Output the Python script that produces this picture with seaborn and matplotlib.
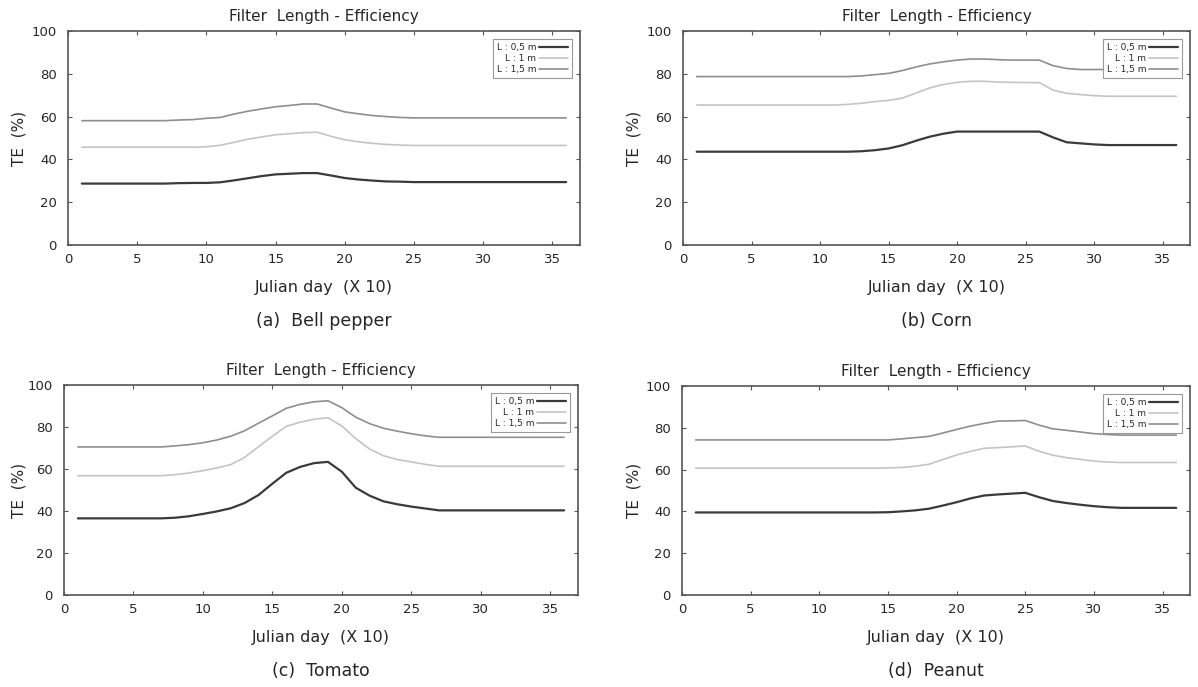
import numpy as np
import pandas as pd
import matplotlib
matplotlib.use("Agg")
import matplotlib.pyplot as plt
import seaborn as sns

# julian day (x10), 1..36
days = list(range(1, 37))
series_names = ["L : 0,5 m", "L : 1 m", "L : 1,5 m"]

# (a) Bell pepper
pepper_05 = [28.7] * 7 + [28.9, 29.0, 29.0, 29.3, 30.2, 31.2, 32.2, 33.0, 33.3, 33.6, 33.6,
                          32.5, 31.3, 30.6, 30.1, 29.7, 29.6] + [29.4] * 12
pepper_10 = [45.7] * 9 + [45.9, 46.6, 48.0, 49.4, 50.5, 51.5, 52.0, 52.5, 52.7,
                          50.8, 49.2, 48.2, 47.5, 47.0, 46.7] + [46.5] * 12
pepper_15 = [58.1] * 7 + [58.4, 58.6, 59.2, 59.6, 61.2, 62.5, 63.6, 64.6, 65.2, 65.9, 65.9,
                          64.0, 62.2, 61.3, 60.5, 60.0, 59.6] + [59.4] * 12

# (b) Corn
corn_05 = [43.6] * 12 + [43.8, 44.3, 45.1, 46.6, 48.7, 50.6, 52.0] + [53.0] * 7 + \
          [50.3, 48.0, 47.5, 47.0] + [46.7] * 6
corn_10 = [65.4] * 11 + [65.7, 66.2, 67.0, 67.6, 68.6, 71.0, 73.4, 75.0, 76.0, 76.5, 76.5,
                         76.1, 76.0, 75.9, 75.9, 72.4, 70.9, 70.3, 69.8] + [69.5] * 6
corn_15 = [78.7] * 12 + [79.0, 79.6, 80.2, 81.5, 83.2, 84.6, 85.6, 86.4, 86.9, 86.9,
                         86.6, 86.4, 86.4, 86.4, 83.8, 82.5] + [82.0] * 8

# (c) Tomato
tomato_05 = [36.5] * 7 + [36.8, 37.5, 38.6, 39.8, 41.3, 43.8, 47.6, 53.0, 58.2, 61.0, 62.8, 63.4,
                          58.7, 51.1, 47.3, 44.6, 43.2, 42.1, 41.2] + [40.3] * 10
tomato_10 = [56.8] * 7 + [57.3, 58.1, 59.2, 60.5, 62.1, 65.5, 70.6, 75.6, 80.3, 82.3, 83.7, 84.4,
                          80.5, 74.5, 69.5, 66.3, 64.5, 63.4, 62.2] + [61.3] * 10
tomato_15 = [70.5] * 7 + [71.0, 71.6, 72.5, 73.8, 75.6, 78.2, 81.8, 85.3, 88.9, 90.8, 92.0, 92.5,
                          89.2, 84.7, 81.6, 79.4, 78.0, 76.8, 75.8] + [75.1] * 10

# (d) Peanut
peanut_05 = [39.5] * 14 + [39.6, 40.0, 40.5, 41.3, 42.8, 44.4, 46.2, 47.6, 48.1, 48.5, 48.9,
                           46.8, 45.0, 44.0, 43.2, 42.5, 42.0] + [41.7] * 5
peanut_10 = [60.7] * 14 + [60.8, 61.0, 61.6, 62.6, 64.8, 67.0, 68.7, 70.2, 70.5, 70.9, 71.3,
                           68.8, 66.9, 65.7, 64.9, 64.1, 63.6] + [63.4] * 5
peanut_15 = [74.2] * 15 + [74.7, 75.3, 75.9, 77.5, 79.2, 80.8, 82.1, 83.2, 83.3, 83.5,
                           81.3, 79.5, 78.8, 78.0, 77.2, 76.8] + [76.5] * 5

panels = [
    ("(a)  Bell pepper", [pepper_05, pepper_10, pepper_15]),
    ("(b) Corn", [corn_05, corn_10, corn_15]),
    ("(c)  Tomato", [tomato_05, tomato_10, tomato_15]),
    ("(d)  Peanut", [peanut_05, peanut_10, peanut_15]),
]

sns.set_style("ticks")
plt.rcParams['font.family'] = ['DejaVu Sans']

palette = {"L : 0,5 m": "#3a3a3a", "L : 1 m": "#c4c4c4", "L : 1,5 m": "#8e8e8e"}
widths = {"L : 0,5 m": 1.6, "L : 1 m": 1.2, "L : 1,5 m": 1.2}

W, H = 1198, 687
fig = plt.figure(figsize=(W / 100, H / 100), dpi=100)

# left, right, top, bottom in pixels, ylabel x
boxes = [(68, 580, 31, 245, 19), (683, 1190, 31, 245, 634),
         (64, 578, 385, 595, 19), (682, 1190, 386, 595, 634)]

for (caption, vals), (l, r, t, b, ylx) in zip(panels, boxes):
    ax = fig.add_axes([l / W, 1 - b / H, (r - l) / W, (b - t) / H])
    df = pd.DataFrame({
        "day": days * 3,
        "TE": vals[0] + vals[1] + vals[2],
        "L": [n for n in series_names for _ in days],
    })
    for name in series_names:
        sub = df[df["L"] == name]
        sns.lineplot(data=sub, x="day", y="TE", color=palette[name],
                     linewidth=widths[name], ax=ax, label=name)
    ax.set_xlim(0, 37)
    ax.set_ylim(0, 100)
    ax.set_xticks(range(0, 36, 5))
    ax.set_yticks(range(0, 101, 20))
    ax.tick_params(direction="in", top=True, right=True, length=3,
                   labelsize=9.5, color="#555555")
    ax.tick_params(axis="y", pad=8)
    ax.tick_params(axis="x", pad=6)
    for s in ax.spines.values():
        s.set_color("#555555")
        s.set_linewidth(1.2)
    ax.set_title("Filter  Length - Efficiency", fontsize=11, pad=7)
    ax.set_xlabel("Julian day  (X 10)", fontsize=11.5, labelpad=10)
    ax.set_ylabel("TE  (%)", fontsize=11, va="center")
    ax.yaxis.set_label_coords((ylx - l) / (r - l), 0.5)
    leg = ax.legend(loc="upper right", fontsize=6.5, markerfirst=False,
                    frameon=True, fancybox=False, framealpha=1, handlelength=3.2,
                    handletextpad=0.3, labelspacing=0.2, borderpad=0.45,
                    borderaxespad=0.9, alignment="right")
    leg.get_frame().set_edgecolor("#999999")
    leg.get_frame().set_linewidth(0.8)
    for txt in leg.get_texts():
        txt.set_ha("right")
    cx = (l + r) / 2 / W
    fig.text(cx, 1 - (b + 76) / H, caption, ha="center", va="center", fontsize=12.5)

fig.savefig("out.png", dpi=100)
